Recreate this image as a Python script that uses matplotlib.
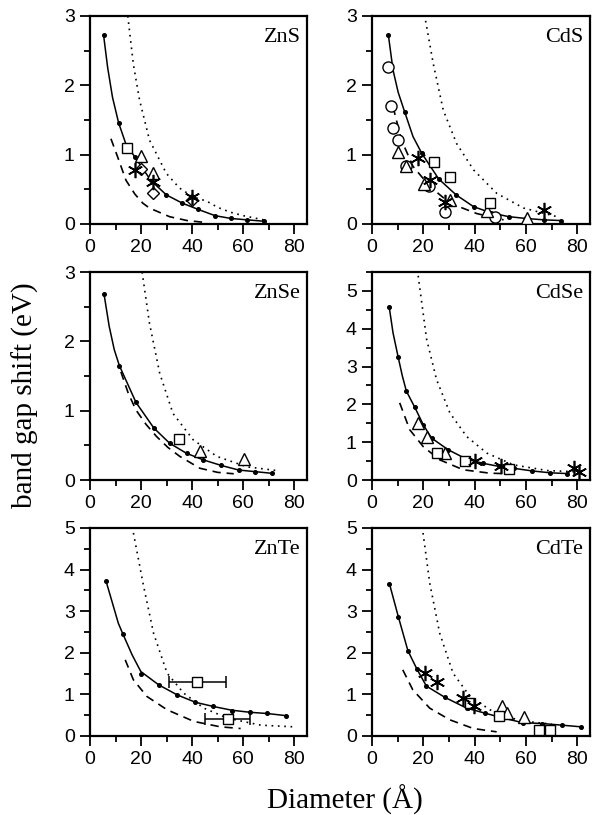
import matplotlib
matplotlib.use("Agg")
import matplotlib.pyplot as plt
from matplotlib.ticker import MultipleLocator

# ---- data (x = diameter in Angstrom, y = band gap shift in eV) ----

# ZnS
zns_dots_x = [5.3, 11.2, 17.5, 23.8, 29.9, 36.2, 42.4, 49.0, 55.2, 61.5, 68.1]
zns_dots_y = [2.73, 1.46, 0.97, 0.63, 0.42, 0.30, 0.21, 0.11, 0.08, 0.06, 0.04]
zns_solid_x = [5.3, 6.9, 8.8, 11.2, 14.0, 17.5, 23.8, 29.9, 36.2, 42.4, 49.0, 55.2, 61.5, 68.1]
zns_solid_y = [2.73, 2.26, 1.83, 1.46, 1.16, 0.97, 0.63, 0.42, 0.30, 0.21, 0.12, 0.08, 0.06, 0.04]
zns_dot_x = [14.8, 17.0, 19.4, 23.3, 29.9, 35.0, 40.4, 45.7, 50.0, 55.0, 60.0, 68.0]
zns_dot_y = [3.0, 2.3, 1.79, 1.21, 0.73, 0.52, 0.39, 0.33, 0.24, 0.17, 0.12, 0.06]
zns_dash_x = [8.2, 10.8, 14.1, 17.6, 20.7, 23.3, 31.2, 38.0, 45.7]
zns_dash_y = [1.23, 0.97, 0.63, 0.43, 0.30, 0.23, 0.105, 0.05, 0.02]
zns_sq = [(14.5, 1.10)]
zns_tri = [(20.0, 0.98), (24.6, 0.73)]
zns_dia = [(20.0, 0.80), (24.6, 0.44), (40.0, 0.35)]
zns_ast = [(17.8, 0.78), (24.6, 0.60), (40.0, 0.39)]

# CdS
cds_dots_x = [6.4, 12.8, 19.4, 26.0, 32.8, 39.6, 46.5, 53.3, 60.0, 67.0, 73.5]
cds_dots_y = [2.72, 1.61, 1.02, 0.65, 0.42, 0.25, 0.16, 0.106, 0.08, 0.06, 0.05]
cds_solid_x = [6.4, 8.2, 10.2, 12.8, 16.0, 19.4, 26.0, 32.8, 39.6, 46.5, 53.3, 60.0, 67.0, 73.5]
cds_solid_y = [2.72, 2.22, 1.90, 1.61, 1.26, 1.02, 0.65, 0.42, 0.25, 0.16, 0.106, 0.08, 0.06, 0.05]
cds_dot_x = [20.9, 23.9, 27.8, 33.0, 39.6, 48.7, 59.1, 72.2]
cds_dot_y = [2.93, 2.31, 1.64, 1.16, 0.78, 0.44, 0.23, 0.105]
cds_dash_x = [8.2, 11.5, 16.0, 22.6, 30.4, 40.9, 51.3]
cds_dash_y = [1.69, 1.21, 0.83, 0.54, 0.30, 0.15, 0.06]
cds_circ = [(6.4, 2.27), (7.3, 1.70), (8.2, 1.39), (10.2, 1.21), (13.4, 0.83),
            (22.3, 0.55), (28.5, 0.17), (48.0, 0.10)]
cds_tri = [(10.2, 1.04), (13.2, 0.83), (20.2, 0.58), (30.4, 0.35), (44.8, 0.19), (60.4, 0.08)]
cds_sq = [(24.3, 0.89), (30.4, 0.68), (46.1, 0.30)]
cds_ast = [(18.0, 0.95), (22.6, 0.63), (28.5, 0.32), (67.0, 0.20)]

# ZnSe
znse_dots_x = [5.5, 11.5, 18.0, 25.0, 31.2, 37.8, 44.4, 51.4, 58.2, 64.8, 71.4]
znse_dots_y = [2.68, 1.65, 1.12, 0.75, 0.53, 0.385, 0.29, 0.22, 0.144, 0.12, 0.096]
znse_solid_x = [5.5, 7.5, 9.5, 11.5, 18.0, 25.0, 31.2, 37.8, 44.4, 51.4, 58.2, 64.8, 71.4]
znse_solid_y = [2.68, 2.22, 1.88, 1.65, 1.12, 0.75, 0.53, 0.385, 0.29, 0.21, 0.144, 0.12, 0.096]
znse_dot_x = [20.4, 23.3, 27.3, 32.5, 40.4, 49.7, 61.5, 73.4]
znse_dot_y = [3.0, 2.26, 1.54, 0.96, 0.58, 0.34, 0.19, 0.135]
znse_dash_x = [12.1, 15.0, 18.0, 22.0, 26.0, 30.5, 35.2, 43.0, 50.0, 56.3]
znse_dash_y = [1.56, 1.25, 1.01, 0.80, 0.63, 0.47, 0.34, 0.17, 0.11, 0.09]
znse_sq = [(34.9, 0.59)]
znse_tri = [(43.1, 0.42), (60.2, 0.30)]

# CdSe
cdse_dots_x = [6.7, 10.2, 13.4, 16.7, 20.0, 23.2, 29.7, 36.9, 43.4, 49.5, 55.2, 62.4, 69.5, 76.1]
cdse_dots_y = [4.58, 3.25, 2.35, 1.92, 1.46, 1.11, 0.80, 0.55, 0.44, 0.36, 0.31, 0.24, 0.19, 0.17]
cdse_solid_x = [6.7, 8.2, 10.2, 11.8, 13.4, 16.7, 20.0, 23.2, 29.7, 36.9, 43.4, 49.5, 55.2, 62.4,
                69.5, 76.1]
cdse_solid_y = [4.58, 3.89, 3.25, 2.76, 2.35, 1.92, 1.46, 1.11, 0.80, 0.55, 0.44, 0.36, 0.31, 0.24,
                0.19, 0.17]
cdse_dot_x = [18.0, 21.3, 25.2, 30.4, 36.9, 44.8, 55.2, 68.3, 78.7]
cdse_dot_y = [5.4, 3.72, 2.65, 1.77, 1.15, 0.71, 0.40, 0.25, 0.22]
cdse_dash_x = [10.8, 14.7, 20.0, 26.5, 35.6, 46.0, 51.0]
cdse_dash_y = [2.04, 1.33, 0.88, 0.53, 0.27, 0.18, 0.17]
cdse_tri = [(18.0, 1.52), (21.3, 1.15), (28.5, 0.71)]
cdse_sq = [(25.2, 0.71), (36.3, 0.49), (53.3, 0.28)]
cdse_ast = [(40.2, 0.51), (50.4, 0.37), (78.7, 0.31), (80.7, 0.22)]

# ZnTe
znte_dots_x = [6.3, 12.9, 19.9, 26.9, 34.1, 41.3, 48.3, 55.5, 62.7, 69.5, 76.7]
znte_dots_y = [3.72, 2.45, 1.49, 1.23, 0.99, 0.81, 0.71, 0.60, 0.57, 0.55, 0.49]
znte_solid_x = [6.3, 9.2, 11.1, 12.9, 16.5, 19.9, 26.9, 34.1, 41.3, 48.3, 55.5, 62.7, 69.5, 76.7]
znte_solid_y = [3.72, 3.11, 2.71, 2.45, 1.95, 1.55, 1.23, 0.99, 0.81, 0.71, 0.62, 0.57, 0.54, 0.49]
znte_dot_x = [17.0, 21.0, 24.9, 30.2, 36.7, 44.6, 53.8, 66.9, 80.0]
znte_dot_y = [4.88, 3.6, 2.47, 1.51, 1.03, 0.67, 0.43, 0.26, 0.22]
znte_dash_x = [13.8, 17.0, 22.3, 30.2, 40.7, 51.1, 59.0]
znte_dash_y = [1.83, 1.35, 0.95, 0.63, 0.35, 0.22, 0.18]
znte_sq_x = [42.0, 54.2]
znte_sq_y = [1.31, 0.40]
znte_sq_lo = [31.0, 45.0]
znte_sq_hi = [53.1, 62.5]

# CdTe
cdte_dots_x = [6.8, 10.3, 14.0, 17.5, 21.2, 28.4, 36.9, 44.0, 51.2, 58.8, 66.4, 74.1, 81.6]
cdte_dots_y = [3.66, 2.86, 2.05, 1.61, 1.20, 0.93, 0.67, 0.55, 0.43, 0.32, 0.30, 0.26, 0.22]
cdte_dot_x = [19.9, 22.5, 26.4, 31.6, 38.2, 46.0, 56.5, 64.3, 70.0]
cdte_dot_y = [4.88, 3.68, 2.47, 1.51, 0.95, 0.63, 0.39, 0.32, 0.29]
cdte_dash_x = [12.0, 15.9, 22.5, 30.3, 39.5, 48.6]
cdte_dash_y = [1.59, 1.11, 0.67, 0.39, 0.18, 0.10]
cdte_ast = [(20.5, 1.51), (25.4, 1.31), (35.3, 0.92), (39.7, 0.71)]
cdte_tri = [(50.6, 0.71), (52.5, 0.55), (59.1, 0.45)]
cdte_sq = [(38.2, 0.80), (49.7, 0.47), (65.0, 0.14), (69.3, 0.14)]

names = ["ZnS", "CdS", "ZnSe", "CdSe", "ZnTe", "CdTe"]
ymax = [3, 3, 3, 5.5, 5, 5]

SERIF = "Liberation Serif"
SANS = "Liberation Sans"
plt.rcParams["font.family"] = SANS

# marker styles
open_kw = dict(ls="none", mfc="white", mec="black", mew=1.0, zorder=5)
styles = {
    "sq": dict(marker="s", ms=7.5, **open_kw),
    "tri": dict(marker="^", ms=9, **open_kw),
    "dia": dict(marker="D", ms=6.5, **open_kw),
    "circ": dict(marker="o", ms=8, **open_kw),
    "ast": dict(marker=(6, 2, 0), ms=11, ls="none", color="black", mew=1.2, zorder=6),
}

fig = plt.figure(figsize=(6.02, 8.15), dpi=100)
lefts = [90 / 602, 372 / 602]
widths = [217 / 602, 218 / 602]
bottoms = [1 - 224 / 815, 1 - 480 / 815, 1 - 736 / 815]
h = 208 / 815

panels = [
    (zns_solid_x, zns_solid_y, zns_dots_x, zns_dots_y, zns_dot_x, zns_dot_y, zns_dash_x, zns_dash_y,
     {"sq": zns_sq, "tri": zns_tri, "dia": zns_dia, "ast": zns_ast}),
    (cds_solid_x, cds_solid_y, cds_dots_x, cds_dots_y, cds_dot_x, cds_dot_y, cds_dash_x, cds_dash_y,
     {"circ": cds_circ, "tri": cds_tri, "sq": cds_sq, "ast": cds_ast}),
    (znse_solid_x, znse_solid_y, znse_dots_x, znse_dots_y, znse_dot_x, znse_dot_y, znse_dash_x, znse_dash_y,
     {"sq": znse_sq, "tri": znse_tri}),
    (cdse_solid_x, cdse_solid_y, cdse_dots_x, cdse_dots_y, cdse_dot_x, cdse_dot_y, cdse_dash_x, cdse_dash_y,
     {"tri": cdse_tri, "sq": cdse_sq, "ast": cdse_ast}),
    (znte_solid_x, znte_solid_y, znte_dots_x, znte_dots_y, znte_dot_x, znte_dot_y, znte_dash_x, znte_dash_y,
     {}),
    (cdte_dots_x, cdte_dots_y, cdte_dots_x, cdte_dots_y, cdte_dot_x, cdte_dot_y, cdte_dash_x, cdte_dash_y,
     {"ast": cdte_ast, "tri": cdte_tri, "sq": cdte_sq}),
]

for i, (sx, sy, dx, dy, ox, oy, ax_, ay, marks) in enumerate(panels):
    row, col = divmod(i, 2)
    ax = fig.add_axes([lefts[col], bottoms[row], widths[col], h])
    ax.plot(sx, sy, color="black", lw=1.1, zorder=3)
    ax.plot(dx, dy, ls="none", marker="o", ms=2.6, color="black", zorder=3)
    ax.plot(ox, oy, color="black", lw=1.2, ls=(0, (1, 2.8)), zorder=2)
    ax.plot(ax_, ay, color="black", lw=1.2, ls=(0, (5, 3.5)), zorder=2)
    for key, pts in marks.items():
        ax.plot([p[0] for p in pts], [p[1] for p in pts], **styles[key])
    if names[i] == "ZnTe":
        xerr = [[x - lo for x, lo in zip(znte_sq_x, znte_sq_lo)],
                [hi - x for x, hi in zip(znte_sq_x, znte_sq_hi)]]
        ax.errorbar(znte_sq_x, znte_sq_y, xerr=xerr, fmt="none", ecolor="black",
                    elinewidth=1.1, capsize=4, capthick=1.1, zorder=4)
        ax.plot(znte_sq_x, znte_sq_y, **styles["sq"])

    ax.set_xlim(0, 85)
    ax.set_ylim(0, ymax[i])
    ax.xaxis.set_major_locator(MultipleLocator(20))
    ax.xaxis.set_minor_locator(MultipleLocator(10))
    ax.yaxis.set_major_locator(MultipleLocator(1))
    ax.yaxis.set_minor_locator(MultipleLocator(0.5))
    ax.tick_params(which="both", direction="out", width=1.3, labelsize=14, top=False, right=False)
    ax.tick_params(which="major", length=7, pad=4)
    ax.tick_params(which="minor", length=4)
    for s in ax.spines.values():
        s.set_linewidth(1.6)
    ax.text(0.97, 0.94, names[i], transform=ax.transAxes, ha="right", va="top",
            fontsize=16, family=SERIF)

fig.text(25 / 602, 1 - 395 / 815, "band gap shift (eV)", rotation=90, ha="center", va="center",
         fontsize=21, family=SERIF)
fig.text(345 / 602, 1 - 800 / 815, "Diameter (Å)", ha="center", va="center",
         fontsize=21, family=SERIF)

fig.savefig("out.png", dpi=100)
